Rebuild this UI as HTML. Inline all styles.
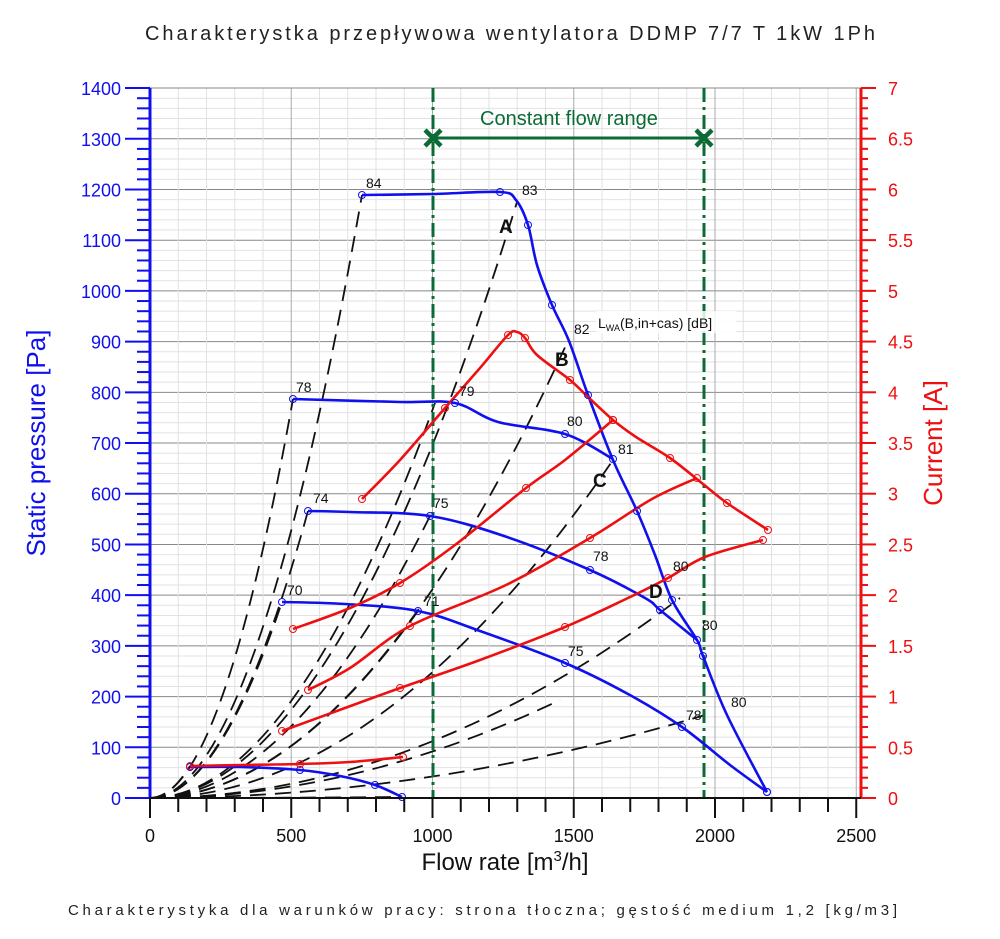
<!DOCTYPE html>
<html><head><meta charset="utf-8"><style>
html,body{margin:0;padding:0;background:#fff;}
svg{display:block;font-family:"Liberation Sans",sans-serif;}
</style></head><body>
<svg id="s" width="1000" height="939" xmlns="http://www.w3.org/2000/svg">
<text x="145" y="40" font-size="20" textLength="730" lengthAdjust="spacing" fill="#222">Charakterystka przepływowa wentylatora DDMP 7/7 T 1kW 1Ph</text>
<text x="68" y="915" font-size="15" textLength="829" lengthAdjust="spacing" fill="#222">Charakterystyka dla warunków pracy: strona tłoczna; gęstość medium 1,2 [kg/m3]</text>
<g id="grid"></g>
<g id="dash" fill="none" stroke="#111" stroke-width="1.8" stroke-dasharray="16,9"></g>
<g id="green" stroke="#0b6b35" stroke-width="3" fill="none">
<line x1="433" y1="88" x2="433" y2="798" stroke-dasharray="14,5,3,5"/>
<line x1="704" y1="88" x2="704" y2="798" stroke-dasharray="14,5,3,5"/>
<line x1="433" y1="138" x2="704" y2="138"/>
<path d="M425 130L441 146M441 130L425 146M696 130L712 146M712 130L696 146" stroke-width="4.5"/>
</g>
<text x="569" y="125" font-size="20" fill="#0b6b35" text-anchor="middle">Constant flow range</text>
<g id="curves" fill="none" stroke-width="2.6"></g>
<g id="marks" fill="none" stroke-width="1"></g>
<g font-size="14" fill="#111">
<text x="366" y="188">84</text><text x="522" y="195">83</text><text x="574" y="334">82</text>
<text x="296" y="392">78</text><text x="459" y="396">79</text><text x="567" y="426">80</text><text x="618" y="454">81</text>
<text x="313" y="503">74</text><text x="433" y="508">75</text><text x="593" y="561">78</text>
<text x="287" y="595">70</text><text x="424" y="606">71</text><text x="568" y="656">75</text><text x="686" y="720">78</text>
<text x="673" y="571">80</text><text x="702" y="630">80</text><text x="731" y="707">80</text>
<rect x="596" y="311" width="140" height="22" fill="#fff" opacity="0.85"/>
<text x="598" y="328">L<tspan font-size="9" dy="3">WA</tspan><tspan dy="-3">(B,in+cas) [dB]</tspan></text>
</g>
<g font-size="19" font-weight="bold" fill="#111">
<text x="499" y="233">A</text><text x="555" y="366">B</text><text x="593" y="487">C</text><text x="649" y="598">D</text>
</g>
<g id="axes"></g>
<text transform="translate(45,443) rotate(-90)" font-size="26" fill="#1010ee" text-anchor="middle">Static pressure [Pa]</text>
<text transform="translate(942,443) rotate(-90)" font-size="26" fill="#ee1010" text-anchor="middle">Current [A]</text>
<text x="505" y="870" font-size="24" fill="#111" text-anchor="middle">Flow rate [m<tspan font-size="15" dy="-9">3</tspan><tspan dy="9">/h]</tspan></text>
</svg>
<script>
const NS="http://www.w3.org/2000/svg";
function el(p,t,a,txt){const e=document.createElementNS(NS,t);for(const k in a)e.setAttribute(k,a[k]);if(txt!==undefined)e.textContent=txt;document.getElementById(p).appendChild(e);return e;}
const X=q=>150+q*0.2825, L=150,R=861,T=88,B=798;
for(let p=0;p<=1400;p+=20){const y=B-p*0.5071;const maj=p%100==0;
 el("grid","line",{x1:L,x2:R,y1:y,y2:y,stroke:maj?"#888":"#e2e2e2","stroke-width":1});}
for(let q=0;q<=2500;q+=100){const x=X(q);const maj=q%500==0;
 el("grid","line",{x1:x,x2:x,y1:T,y2:B,stroke:maj?"#aaa":"#e2e2e2","stroke-width":1});}
el("grid","line",{x1:L,x2:R,y1:T,y2:T,stroke:"#888"});
el("axes","line",{x1:L,x2:L,y1:T,y2:B,stroke:"#1010ee","stroke-width":3});
el("axes","line",{x1:R,x2:R,y1:T,y2:B,stroke:"#ee1010","stroke-width":3});
el("axes","line",{x1:L,x2:R,y1:B,y2:B,stroke:"#111","stroke-width":2});
for(let p=0;p<=1400;p+=20){const y=B-p*0.5071;const maj=p%100==0;
 el("axes","line",{x1:maj?125:137,x2:L,y1:y,y2:y,stroke:"#1010ee","stroke-width":2});
 if(maj)el("axes","text",{x:121,y:y+7,"font-size":18,fill:"#1010ee","text-anchor":"end"},p);}
for(let i=0;i<=70;i++){const y=B-i*10.143;const maj=i%5==0;
 el("axes","line",{x1:R,x2:maj?876:868,y1:y,y2:y,stroke:"#ee1010","stroke-width":2});
 if(maj)el("axes","text",{x:888,y:y+7,"font-size":18,fill:"#ee1010"},String(i/10));}
for(let q=0;q<=2500;q+=100){const x=X(q);const maj=q%500==0;
 el("axes","line",{x1:x,x2:x,y1:B,y2:maj?818:812,stroke:"#111","stroke-width":2});
 if(maj)el("axes","text",{x:x,y:842,"font-size":18,fill:"#111","text-anchor":"middle"},q);}
[[362,195],[517,202],[567,343],[613,460],[680,598],[705,715],[293,399],[435,403],[308,511],[430,516],[282,602],[418,611],[190,766],[402,797],[560,700]].forEach(([x,y])=>{
 el("dash","path",{d:`M150 798Q${(150+x)/2} 798 ${x} ${y}`});});
function cr(P){let d=`M${P[0][0]} ${P[0][1]}`;for(let i=0;i<P.length-1;i++){const p0=P[i-1]||P[i],p1=P[i],p2=P[i+1],p3=P[i+2]||p2;
 d+=`C${p1[0]+(p2[0]-p0[0])/6} ${p1[1]+(p2[1]-p0[1])/6} ${p2[0]-(p3[0]-p1[0])/6} ${p2[1]-(p3[1]-p1[1])/6} ${p2[0]} ${p2[1]}`;}return d;}
const blue="#1010ee",red="#ee1010";
const curves=[
 [blue,[[362,195],[433,194],[500,192],[516,200],[528,225],[537,265],[552,305],[569,341],[588,395],[613,460],[637,511],[655,555],[672,600],[697,640],[703,656],[727,715],[767,792]]],
 [blue,[[293,399],[400,402],[455,403],[498,422],[565,434],[613,459]]],
 [blue,[[308,511],[350,512],[430,516],[507,537],[590,570],[645,598],[660,610],[697,640]]],
 [blue,[[282,602],[345,604],[418,611],[480,631],[565,663],[628,694],[682,727],[730,765],[767,792]]],
 [blue,[[190,767],[240,767],[300,770],[340,776],[375,785],[402,797]]],
 [red,[[362,499],[400,460],[445,408],[480,368],[508,335],[517,332],[525,338],[537,355],[570,380],[588,397],[613,420],[636,437],[670,458],[703,484],[727,503],[768,530]]],
 [red,[[293,629],[350,608],[400,583],[455,545],[526,488],[565,460],[613,420]]],
 [red,[[308,690],[350,668],[410,626],[506,585],[590,538],[652,499],[697,478]]],
 [red,[[282,731],[345,708],[400,688],[480,660],[565,627],[628,598],[668,578],[705,557],[763,540]]],
 [red,[[190,766],[240,765],[300,764],[350,762],[403,757]]]
];
curves.forEach(([c,P])=>{el("curves","path",{d:cr(P),stroke:c});
 P.forEach((p,i)=>{if(i%2==0||i==P.length-1)el("marks","circle",{cx:p[0],cy:p[1],r:3.5,stroke:c,fill:"none"});});});
</script>
</body></html>
